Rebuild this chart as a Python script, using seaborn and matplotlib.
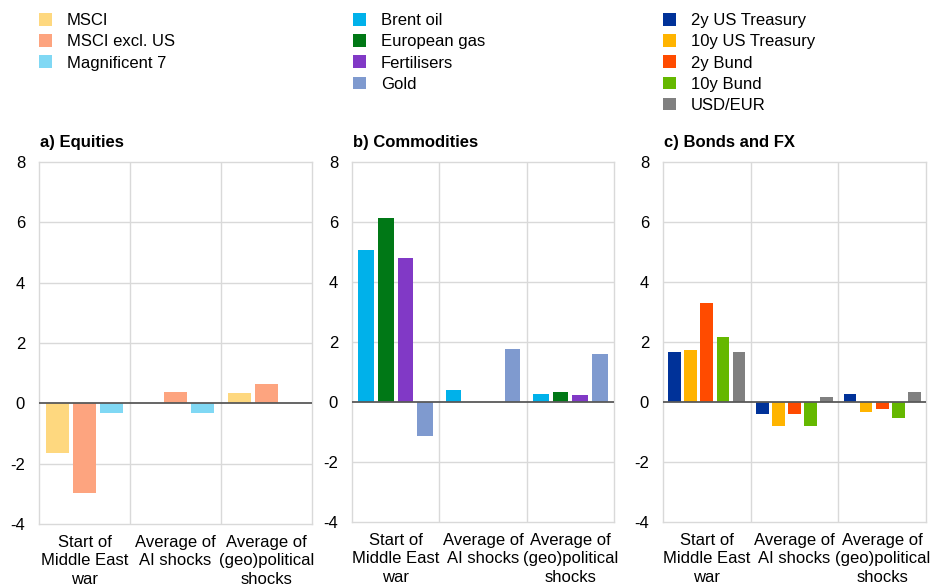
import numpy as np
import pandas as pd
import matplotlib
matplotlib.use("Agg")
import matplotlib.pyplot as plt
from matplotlib.patches import Patch
import seaborn as sns

# ---- data -------------------------------------------------------------
events = ["Start of\nMiddle East\nwar", "Average of\nAI shocks", "Average of\n(geo)political\nshocks"]

equity_names = ["MSCI", "MSCI excl. US", "Magnificent 7"]
msci = [-1.64, np.nan, 0.34]
msci_excl_us = [-2.96, 0.39, 0.64]
magnificent_7 = [-0.31, -0.31, np.nan]

commodity_names = ["Brent oil", "European gas", "Fertilisers", "Gold"]
brent_oil = [5.07, 0.40, 0.28]
european_gas = [6.12, np.nan, 0.32]
fertilisers = [4.81, np.nan, 0.23]
gold = [-1.13, 1.78, 1.61]

bond_fx_names = ["2y US Treasury", "10y US Treasury", "2y Bund", "10y Bund", "USD/EUR"]
us_2y = [1.66, -0.41, 0.28]
us_10y = [1.73, -0.79, -0.32]
bund_2y = [3.31, -0.41, -0.23]
bund_10y = [2.16, -0.79, -0.53]
usd_eur = [1.66, 0.16, 0.32]

y_ticks = [-4, -2, 0, 2, 4, 6, 8]

panel_titles = ["a) Equities", "b) Commodities", "c) Bonds and FX"]

equity_colors = ["#FED87F", "#FDA47F", "#80D8F4"]
commodity_colors = ["#00B1EA", "#007816", "#8139C6", "#7F9ACF"]
bond_fx_colors = ["#003299", "#FFB400", "#FF4B00", "#65B800", "#808080"]


def long_frame(names, series):
    rows = []
    for name, vals in zip(names, series):
        for ev, v in zip(events, vals):
            rows.append({"event": ev, "series": name, "value": v})
    return pd.DataFrame(rows)


panels = [
    (long_frame(equity_names, [msci, msci_excl_us, magnificent_7]), equity_names, equity_colors, 0.88, 0.14),
    (long_frame(commodity_names, [brent_oil, european_gas, fertilisers, gold]), commodity_names, commodity_colors, 0.90, 0.20),
    (long_frame(bond_fx_names, [us_2y, us_10y, bund_2y, bund_10y, usd_eur]), bond_fx_names, bond_fx_colors, 0.92, 0.21),
]

# ---- styling ----------------------------------------------------------
sns.set_theme(style="white")
plt.rcParams["font.family"] = ["Liberation Sans", "DejaVu Sans"]
plt.rcParams["font.size"] = 12
plt.rcParams["text.color"] = "#000000"
plt.rcParams["axes.labelcolor"] = "#000000"

W, H = 935, 584
fig = plt.figure(figsize=(W / 100, H / 100), dpi=100)
fig.patch.set_facecolor("white")

# axes boxes in pixels: (left, right, top, bottom)
boxes = [(39, 312, 162, 524), (352, 614, 162, 522), (663, 926, 162, 522)]

grid_col = "#D9D9D9"
for (df, names, colors, width, gap), title, (l, r, t, b) in zip(panels, panel_titles, boxes):
    ax = fig.add_axes([l / W, 1 - b / H, (r - l) / W, (b - t) / H])
    sns.barplot(data=df, x="event", y="value", hue="series", order=events,
                hue_order=names, palette=colors, width=width, gap=gap,
                dodge=True, errorbar=None, legend=False, saturation=1,
                linewidth=0, ax=ax)
    ax.set_xlim(-0.5, 2.5)
    ax.set_ylim(-4, 8)
    ax.set_yticks(y_ticks)
    ax.set_yticklabels([str(v) for v in y_ticks])
    ax.set_xlabel("")
    ax.set_ylabel("")
    for yv in y_ticks:
        if yv not in (-4, 8, 0):
            ax.axhline(yv, color=grid_col, lw=1.0, zorder=0)
    for xv in (0.5, 1.5):
        ax.axvline(xv, color=grid_col, lw=1.0, zorder=0)
    ax.axhline(0, color="#595959", lw=1.3, zorder=3)
    for s in ax.spines.values():
        s.set_color(grid_col)
        s.set_linewidth(1.0)
    ax.tick_params(axis="both", length=0, labelsize=12, colors="#000000")
    ax.tick_params(axis="y", pad=10)
    ax.tick_params(axis="x", pad=8)
    for lab in ax.get_xticklabels():
        lab.set_linespacing(1.27)
    ax.set_title(title, loc="left", fontsize=12, fontweight="bold", pad=11,
                 x=0.005, color="#000000")

# ---- legends ----------------------------------------------------------
legend_specs = [
    (equity_names, equity_colors, 39),
    (commodity_names, commodity_colors, 353),
    (bond_fx_names, bond_fx_colors, 663),
]
for names, colors, x0 in legend_specs:
    handles = [Patch(facecolor=c, edgecolor="none", label=n) for n, c in zip(names, colors)]
    fig.legend(handles=handles, loc="upper left", bbox_to_anchor=(x0 / W, 1 - 13 / H),
               frameon=False, fontsize=12, handlelength=0.78, handleheight=0.78,
               handletextpad=0.9, labelspacing=0.37, borderpad=0, borderaxespad=0)

fig.savefig("out.png", dpi=100)
